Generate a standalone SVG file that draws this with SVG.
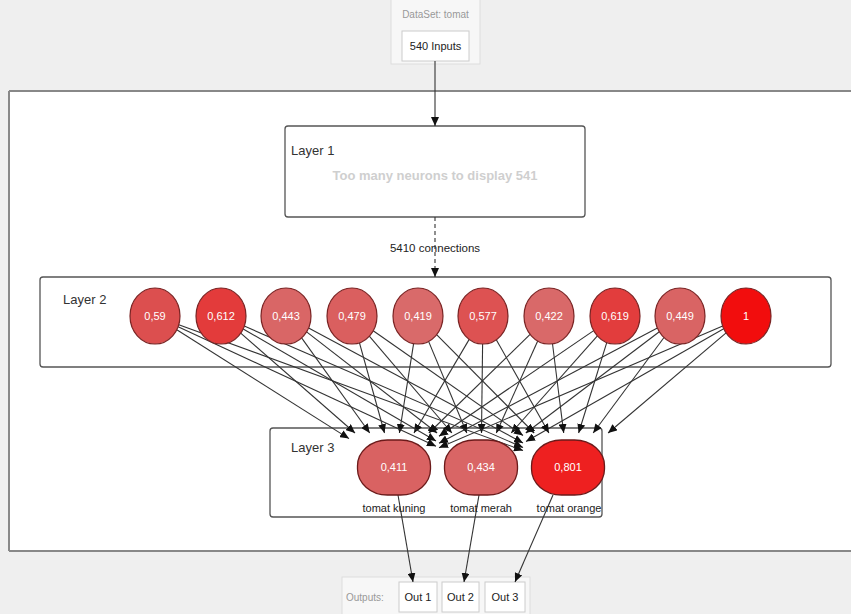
<svg xmlns="http://www.w3.org/2000/svg" width="851" height="614" viewBox="0 0 851 614">
<style>
text{font-family:"Liberation Sans",Arial,sans-serif}
.layer{fill:#fff;stroke:#555;stroke-width:1.3}
.ltitle{font-size:13px;fill:#333}
.n2{stroke:#7a2424;stroke-width:1.2}
.nl{font-size:11px;fill:#fff;text-anchor:middle}
.n3{stroke:#6b1a1a;stroke-width:1.3}
.olab{font-size:11px;fill:#222;text-anchor:middle}
.c{stroke:#333;stroke-width:1.1;fill:none;marker-end:url(#ah)}
.box{fill:#fff;stroke:#ccc;stroke-width:1}
.btxt{font-size:11px;fill:#222;text-anchor:middle}
</style>
<defs>
<marker id="ah" markerUnits="userSpaceOnUse" markerWidth="10" markerHeight="8" refX="9" refY="4" orient="auto">
<path d="M0,0 L9,4 L0,8 Z" fill="#111"/>
</marker>
</defs>
<rect x="0" y="0" width="851" height="614" fill="#efefef"/>
<g id="panel">
<rect x="9" y="91" width="845" height="460" fill="#fff"/>
<path d="M9,91 H851 M9,91 V551 M9,551 H851" stroke="#888" stroke-width="2" fill="none"/>
</g>
<g id="dataset">
<rect x="391" y="-1" width="89" height="65" fill="#f7f7f7" stroke="#ddd"/>
<text x="435.5" y="18" font-size="10" fill="#999" text-anchor="middle">DataSet: tomat</text>
<rect class="box" x="402" y="31" width="67" height="30"/>
<text class="btxt" x="435.5" y="50">540 Inputs</text>
</g>
<g id="layer1">
<rect class="layer" x="285" y="126" width="300" height="91" rx="3"/>
<text class="ltitle" x="291" y="155">Layer 1</text>
<text x="435" y="180" font-size="13" font-weight="bold" fill="#cfcfcf" text-anchor="middle">Too many neurons to display 541</text>
</g>
<g id="layer2">
<rect class="layer" x="40" y="277" width="791" height="90" rx="3"/>
<text class="ltitle" x="63" y="304">Layer 2</text>
</g>
<g id="layer3">
<rect class="layer" x="270" y="428" width="332" height="89" rx="3"/>
<text class="ltitle" x="291" y="452">Layer 3</text>
</g>
<g id="outputs">
<rect x="342" y="577" width="188" height="40" fill="#f7f7f7" stroke="#ddd"/>
<text x="346" y="601" font-size="10" fill="#999">Outputs:</text>
<rect class="box" x="399" y="582" width="38" height="30"/>
<text class="btxt" x="418" y="601">Out 1</text>
<rect class="box" x="442" y="582" width="37" height="30"/>
<text class="btxt" x="460.5" y="601">Out 2</text>
<rect class="box" x="485" y="582" width="40" height="30"/>
<text class="btxt" x="505" y="601">Out 3</text>
</g>
<g id="connectors">
<line class="c" x1="435" y1="61" x2="435" y2="126"/>
<line class="c" x1="435" y1="217" x2="435" y2="277" stroke-dasharray="4,3"/>
<text x="435" y="252" font-size="11.5" fill="#222" text-anchor="middle">5410 connections</text>
<line class="c" x1="176.8" y1="329.8" x2="349" y2="438.6"/>
<line class="c" x1="240.7" y1="333.2" x2="355" y2="433"/>
<line class="c" x1="301.6" y1="337.9" x2="369.7" y2="433"/>
<line class="c" x1="359.4" y1="342.7" x2="384.5" y2="433"/>
<line class="c" x1="413.6" y1="343.6" x2="399.4" y2="433"/>
<line class="c" x1="469.2" y1="339.4" x2="414" y2="433"/>
<line class="c" x1="530.1" y1="334.4" x2="428.9" y2="433"/>
<line class="c" x1="593.7" y1="330.6" x2="439" y2="436.3"/>
<line class="c" x1="657.4" y1="327.9" x2="439" y2="443.2"/>
<line class="c" x1="722.7" y1="326" x2="439" y2="447.7"/>
<line class="c" x1="178.1" y1="326.7" x2="436" y2="446.2"/>
<line class="c" x1="243.2" y1="328.9" x2="436" y2="440.9"/>
<line class="c" x1="306.6" y1="331.9" x2="437.1" y2="433"/>
<line class="c" x1="369.3" y1="336.2" x2="451.9" y2="433"/>
<line class="c" x1="428.6" y1="341.4" x2="466.8" y2="433"/>
<line class="c" x1="482.6" y1="344" x2="481.5" y2="433"/>
<line class="c" x1="537.7" y1="341" x2="496.3" y2="433"/>
<line class="c" x1="597.4" y1="335.9" x2="511.2" y2="433"/>
<line class="c" x1="659.3" y1="331.7" x2="525.8" y2="433"/>
<line class="c" x1="723.7" y1="328.7" x2="526" y2="441.4"/>
<line class="c" x1="178.8" y1="324.7" x2="523" y2="450.5"/>
<line class="c" x1="244.3" y1="326.1" x2="523" y2="447.4"/>
<line class="c" x1="308.6" y1="328.1" x2="523" y2="442.9"/>
<line class="c" x1="373.2" y1="330.8" x2="523" y2="435.5"/>
<line class="c" x1="436.6" y1="334.7" x2="534.2" y2="433"/>
<line class="c" x1="496.3" y1="339.7" x2="548.9" y2="433"/>
<line class="c" x1="552.5" y1="343.7" x2="563.7" y2="433"/>
<line class="c" x1="606.8" y1="342.4" x2="578.6" y2="433"/>
<line class="c" x1="664" y1="337.5" x2="593.2" y2="433"/>
<line class="c" x1="726.1" y1="332.9" x2="608.1" y2="433"/>
<line class="c" x1="398" y1="495" x2="413" y2="582"/>
<line class="c" x1="479" y1="495" x2="464" y2="582"/>
<line class="c" x1="553" y1="495" x2="515" y2="582"/>
</g>
<g id="n2_1"><ellipse class="n2" cx="155" cy="316" rx="25" ry="28" fill="#dc4f4f"/><text class="nl" x="155" y="320">0,59</text></g>
<g id="n2_2"><ellipse class="n2" cx="221" cy="316" rx="25" ry="28" fill="#e33b3b"/><text class="nl" x="221" y="320">0,612</text></g>
<g id="n2_3"><ellipse class="n2" cx="286" cy="316" rx="25" ry="28" fill="#d96666"/><text class="nl" x="286" y="320">0,443</text></g>
<g id="n2_4"><ellipse class="n2" cx="352" cy="316" rx="25" ry="28" fill="#da5f5f"/><text class="nl" x="352" y="320">0,479</text></g>
<g id="n2_5"><ellipse class="n2" cx="418" cy="316" rx="25" ry="28" fill="#d96a6a"/><text class="nl" x="418" y="320">0,419</text></g>
<g id="n2_6"><ellipse class="n2" cx="483" cy="316" rx="25" ry="28" fill="#dd5252"/><text class="nl" x="483" y="320">0,577</text></g>
<g id="n2_7"><ellipse class="n2" cx="549" cy="316" rx="25" ry="28" fill="#d96969"/><text class="nl" x="549" y="320">0,422</text></g>
<g id="n2_8"><ellipse class="n2" cx="615" cy="316" rx="25" ry="28" fill="#e23d3d"/><text class="nl" x="615" y="320">0,619</text></g>
<g id="n2_9"><ellipse class="n2" cx="680" cy="316" rx="25" ry="28" fill="#d96464"/><text class="nl" x="680" y="320">0,449</text></g>
<g id="n2_10"><ellipse class="n2" cx="746" cy="316" rx="25" ry="28" fill="#f20d0d"/><text class="nl" x="746" y="320">1</text></g>
<g id="n3_1"><rect class="n3" x="357.5" y="440" width="73" height="55" rx="30" ry="26" fill="#d96262"/><text class="nl" x="394" y="471">0,411</text><text class="olab" x="394" y="512">tomat kuning</text></g>
<g id="n3_2"><rect class="n3" x="444.5" y="440" width="73" height="55" rx="30" ry="26" fill="#d96565"/><text class="nl" x="481" y="471">0,434</text><text class="olab" x="481" y="512">tomat merah</text></g>
<g id="n3_3"><rect class="n3" x="531.5" y="440" width="73" height="55" rx="30" ry="26" fill="#ee2020"/><text class="nl" x="568" y="471">0,801</text><text class="olab" x="569" y="512">tomat orange</text></g>
</svg>
